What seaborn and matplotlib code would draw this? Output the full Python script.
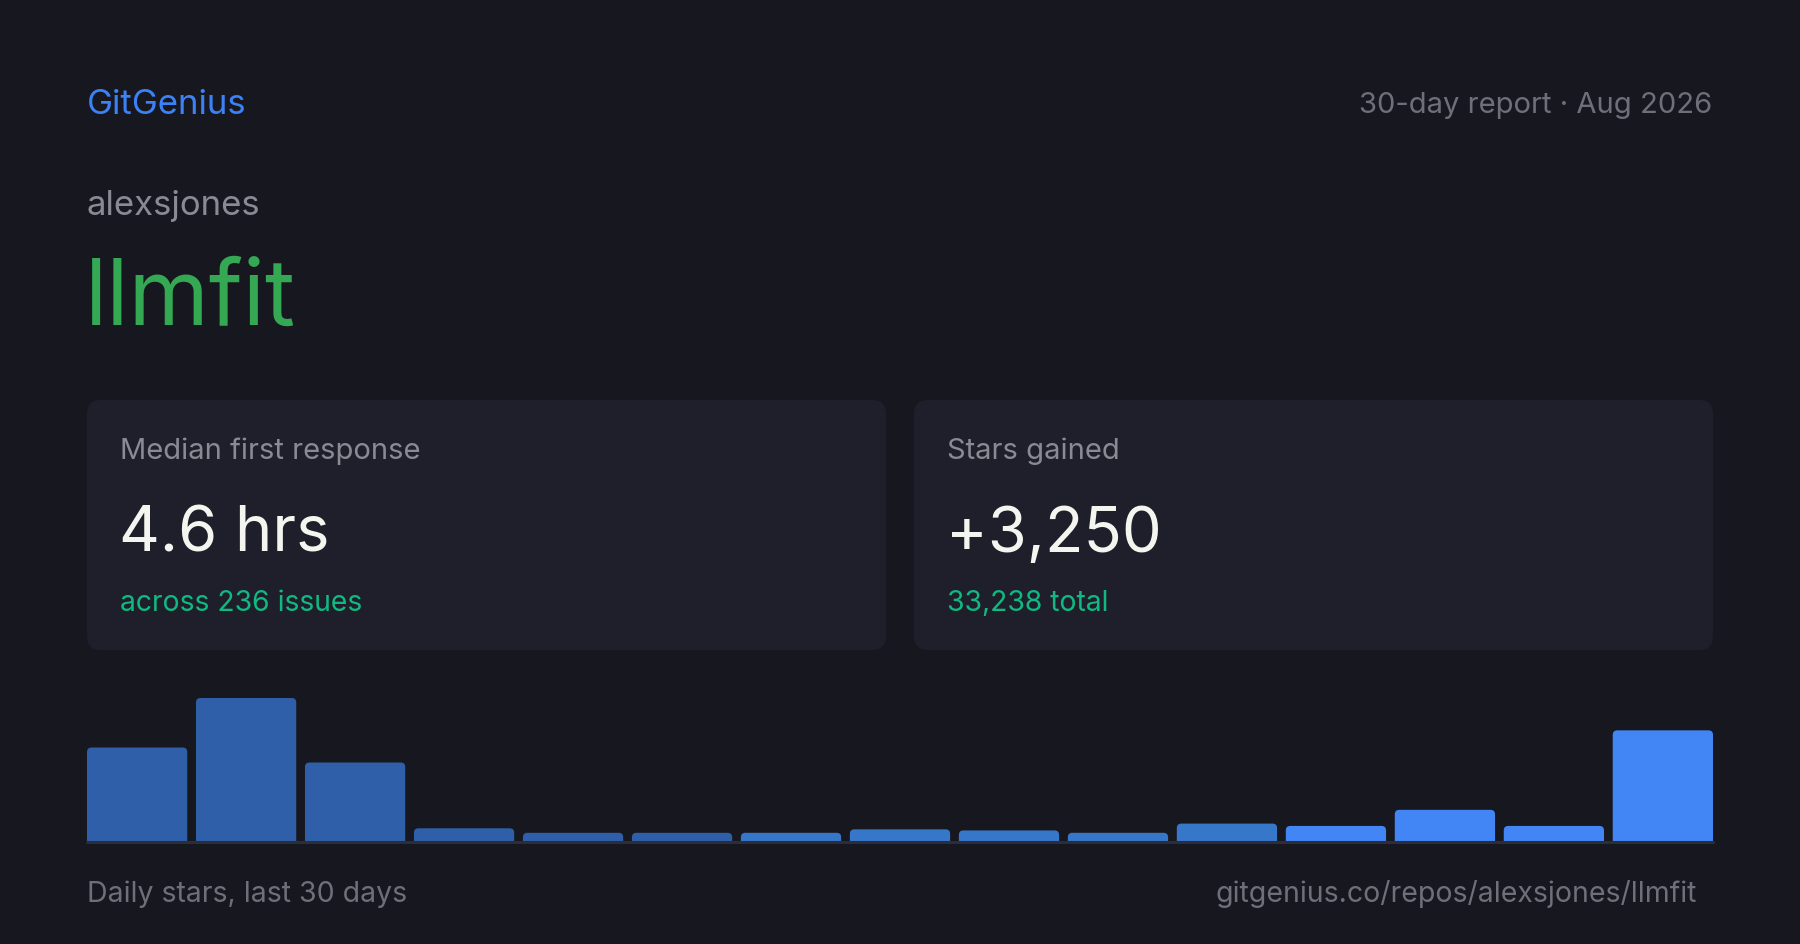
import matplotlib
matplotlib.use("Agg")
import matplotlib.pyplot as plt
import seaborn as sns
from matplotlib.patches import FancyBboxPatch

# Data: daily stars, grouped in two-day bins (last 30 days)
periods = ["1-2", "3-4", "5-6", "7-8", "9-10", "11-12", "13-14", "15-16",
           "17-18", "19-20", "21-22", "23-24", "25-26", "27-28", "29-30"]
stars = [523, 797, 440, 76, 51, 51, 51, 70, 64, 51, 102, 89, 178, 89, 618]
bar_colors = ["#2E5FA8"] * 6 + ["#3777C9"] * 5 + ["#4285F4"] * 4

brand = "GitGenius"
report_label = "30-day report · Aug 2026"
owner = "alexsjones"
repo = "llmfit"
card_labels = ["Median first response", "Stars gained"]
card_values = ["4.6 hrs", "+3,250"]
card_subs = ["across 236 issues", "33,238 total"]
footer_left = "Daily stars, last 30 days"
footer_right = "gitgenius.co/repos/alexsjones/llmfit"

BG = "#17171F"
CARD = "#1F1F2B"
GREY = "#8A8A94"
DIM = "#6F6F79"

sns.set_theme(style="white")
plt.rcParams["font.family"] = ["Inter", "DejaVu Sans"]

fig = plt.figure(figsize=(18, 9.45), dpi=100, facecolor=BG)

# background canvas in pixel coordinates
bg = fig.add_axes([0, 0, 1, 1])
bg.set_xlim(0, 1800)
bg.set_ylim(945, 0)
bg.axis("off")
bg.set_facecolor(BG)

bg.text(87, 114, brand, color="#3B82F6", fontsize=25, va="baseline", ha="left")
bg.text(1712, 113, report_label, color=DIM, fontsize=21, va="baseline", ha="right")
bg.text(87, 215, owner, color=GREY, fontsize=25, va="baseline", ha="left")
bg.text(85, 325, repo, color="#34A853", fontsize=66, va="baseline", ha="left")

# the two stat cards
card_x = [87, 914]
for i in range(2):
    x0 = card_x[i]
    box = FancyBboxPatch((x0, 401), 799, 250, boxstyle="round,pad=0,rounding_size=14",
                         facecolor=CARD, edgecolor="none")
    bg.add_patch(box)
    bg.text(x0 + 33, 459, card_labels[i], color=GREY, fontsize=21, va="baseline")
    bg.text(x0 + 32, 552, card_values[i], color="#F5F5F0", fontsize=45.5, va="baseline")
    bg.text(x0 + 33, 611, card_subs[i], color="#10B981", fontsize=20.4, va="baseline")

bg.text(87, 902, footer_left, color=DIM, fontsize=20.5, va="baseline", ha="left")
bg.text(1697, 902, footer_right, color=DIM, fontsize=20.5, va="baseline", ha="right")

# bar chart
ax = fig.add_axes([87 / 1800, 1 - 843 / 945, 1626 / 1800, 144 / 945])
ax.set_facecolor("none")
df = {"period": periods, "stars": stars}
sns.barplot(x="period", y="stars", hue="period", data=df, palette=bar_colors,
            legend=False, width=0.92, saturation=1, ax=ax)
ax.set_xlim(-0.46, 14.46)
ax.set_ylim(0, max(stars))

# round the top corners of the bars
px_x = 1626 / 14.92
px_y = 144 / max(stars)
r = 4.5 / px_x
aspect = (1 / px_y) / (1 / px_x)
for p in list(ax.patches):
    x, w, h = p.get_x(), p.get_width(), p.get_height()
    rb = r * aspect
    rounded = FancyBboxPatch((x, -rb), w, h + rb, boxstyle=f"round,pad=0,rounding_size={r}",
                             mutation_aspect=aspect, facecolor=p.get_facecolor(),
                             edgecolor="none", zorder=2)
    ax.add_patch(rounded)
    p.set_visible(False)

ax.axhline(0, color="#2C2D3A", lw=2.2, zorder=3, clip_on=False)
ax.set_xlabel("")
ax.set_ylabel("")
ax.set_xticks([])
ax.set_yticks([])
sns.despine(ax=ax, left=True, bottom=True)

fig.savefig("out.png", dpi=100, facecolor=BG)
